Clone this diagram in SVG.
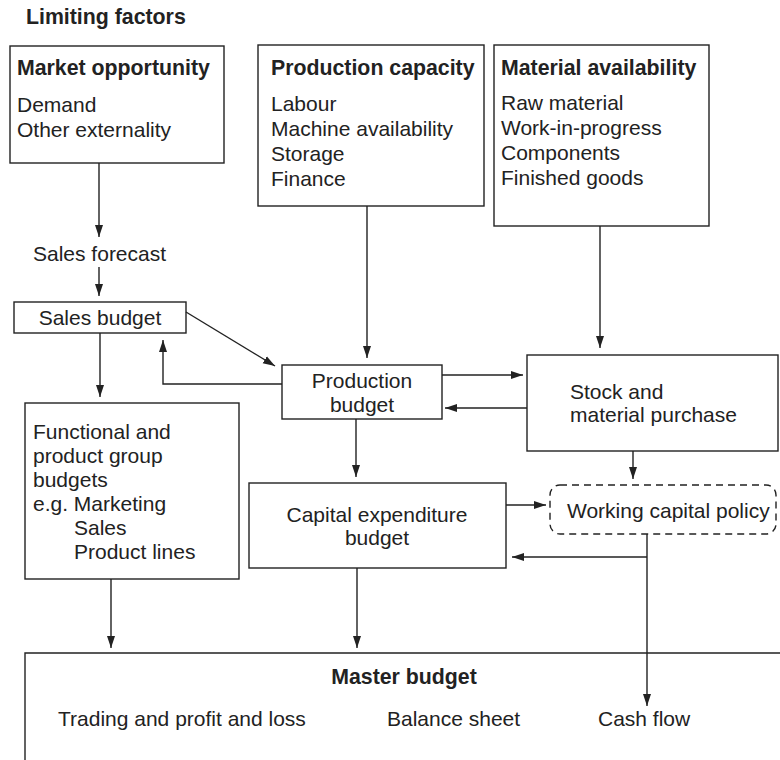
<svg xmlns="http://www.w3.org/2000/svg" width="780" height="760" viewBox="0 0 780 760">
  <style>
    text { font-family: "Liberation Sans", Arial, sans-serif; font-size: 21px; fill: #222; }
    .b { font-weight: bold; font-size: 21.3px; }
    .box { fill: #fff; stroke: #222; stroke-width: 1.4; }
    .dash { fill: #fff; stroke: #222; stroke-width: 1.4; stroke-dasharray: 7 5; }
    .ln { fill: none; stroke: #222; stroke-width: 1.4; }
    .arr { fill: none; stroke: #222; stroke-width: 1.4; marker-end: url(#ah); }
  </style>
  <defs>
    <marker id="ah" markerUnits="userSpaceOnUse" markerWidth="12" markerHeight="10" viewBox="0 0 12 10" refX="12" refY="5" orient="auto">
      <path d="M0,1 L12,5 L0,9 Z" fill="#222"/>
    </marker>
  </defs>

  <text class="b" x="26" y="24">Limiting factors</text>

  <g id="market-opportunity">
    <rect class="box" x="10" y="46" width="214" height="117"/>
    <text class="b" x="17" y="75">Market opportunity</text>
    <text x="17" y="112">Demand</text>
    <text x="17" y="137">Other externality</text>
  </g>

  <g id="production-capacity">
    <rect class="box" x="258" y="45" width="226" height="161"/>
    <text class="b" x="271" y="75">Production capacity</text>
    <text x="271" y="111">Labour</text>
    <text x="271" y="136">Machine availability</text>
    <text x="271" y="161">Storage</text>
    <text x="271" y="186">Finance</text>
  </g>

  <g id="material-availability">
    <rect class="box" x="494" y="45" width="215" height="181"/>
    <text class="b" x="501" y="75">Material availability</text>
    <text x="501" y="110">Raw material</text>
    <text x="501" y="135">Work-in-progress</text>
    <text x="501" y="160">Components</text>
    <text x="501" y="185">Finished goods</text>
  </g>

  <g id="sales-forecast">
    <text x="33" y="261">Sales forecast</text>
  </g>

  <g id="sales-budget">
    <rect class="box" x="14" y="302" width="172" height="31"/>
    <text x="100" y="325" text-anchor="middle">Sales budget</text>
  </g>

  <g id="production-budget">
    <rect class="box" x="282" y="365" width="160" height="54"/>
    <text x="362" y="388" text-anchor="middle">Production</text>
    <text x="362" y="412" text-anchor="middle">budget</text>
  </g>

  <g id="stock-purchase">
    <rect class="box" x="527" y="355" width="251" height="96"/>
    <text x="570" y="399">Stock and</text>
    <text x="570" y="422">material purchase</text>
  </g>

  <g id="functional-budgets">
    <rect class="box" x="25" y="403" width="214" height="176"/>
    <text x="33" y="439">Functional and</text>
    <text x="33" y="463">product group</text>
    <text x="33" y="487">budgets</text>
    <text x="33" y="511">e.g. Marketing</text>
    <text x="74" y="535">Sales</text>
    <text x="74" y="559">Product lines</text>
  </g>

  <g id="capital-expenditure">
    <rect class="box" x="249" y="483" width="257" height="85"/>
    <text x="377" y="522" text-anchor="middle">Capital expenditure</text>
    <text x="377" y="545" text-anchor="middle">budget</text>
  </g>

  <g id="working-capital-policy">
    <rect class="dash" x="550" y="485" width="226" height="49" rx="10"/>
    <text x="567" y="518">Working capital policy</text>
  </g>

  <g id="master-budget">
    <path class="ln" d="M25,760 V653 H780"/>
    <text class="b" x="404" y="684" text-anchor="middle">Master budget</text>
    <text x="58" y="726">Trading and profit and loss</text>
    <text x="387" y="726">Balance sheet</text>
    <text x="598" y="726">Cash flow</text>
  </g>

  <g id="connectors">
    <line class="arr" x1="99" y1="163" x2="99" y2="237"/>
    <line class="arr" x1="99" y1="267" x2="99" y2="296"/>
    <line class="arr" x1="100" y1="333" x2="100" y2="397"/>
    <line class="arr" x1="186" y1="312" x2="275" y2="366"/>
    <polyline class="arr" points="282,384 163,384 163,340"/>
    <line class="arr" x1="367" y1="206" x2="367" y2="358"/>
    <line class="arr" x1="600" y1="226" x2="600" y2="348"/>
    <line class="arr" x1="442" y1="375" x2="523" y2="375"/>
    <line class="arr" x1="527" y1="408" x2="445" y2="408"/>
    <line class="arr" x1="356" y1="419" x2="356" y2="477"/>
    <line class="arr" x1="633" y1="451" x2="633" y2="479"/>
    <line class="arr" x1="506" y1="505" x2="546" y2="505"/>
    <line class="arr" x1="647" y1="557" x2="512" y2="557"/>
    <line class="arr" x1="647" y1="534" x2="647" y2="706"/>
    <line class="arr" x1="111" y1="579" x2="111" y2="648"/>
    <line class="arr" x1="357" y1="568" x2="357" y2="648"/>
  </g>
</svg>
